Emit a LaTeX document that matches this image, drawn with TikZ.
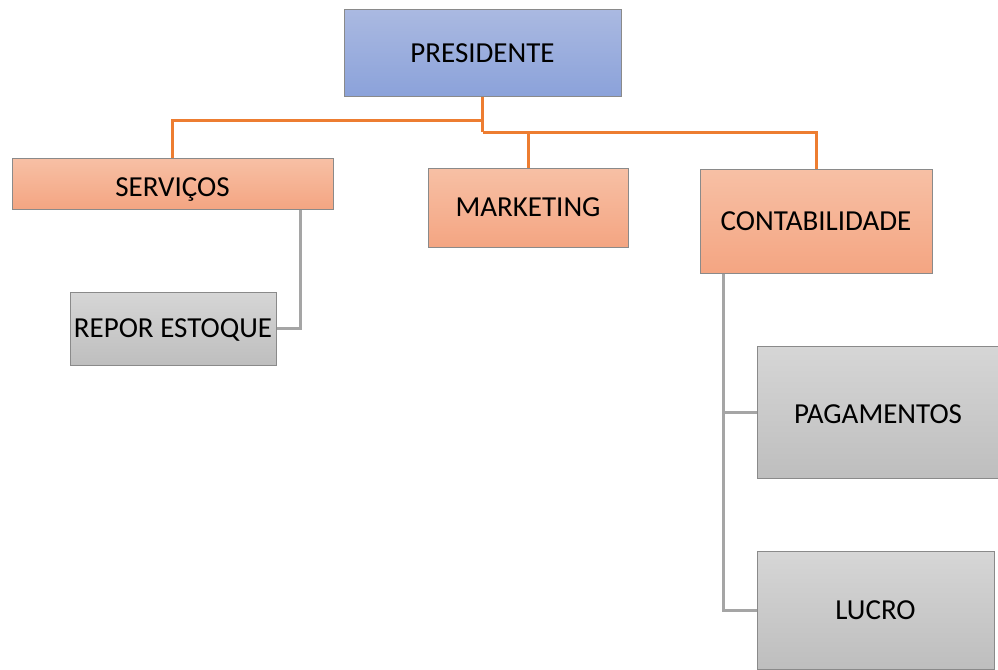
\documentclass[tikz,border=0pt]{standalone}
\usepackage{fontspec}
\setmainfont{Carlito}
\begin{document}
\begin{tikzpicture}[x=1pt,y=-1pt,
  box/.style={draw=boxborder, line width=1pt, inner sep=0pt, text height=18.6pt, text depth=0pt, font=\fontsize{29}{34}\selectfont, text=black},
  bluebox/.style={box, top color=blueT, bottom color=blueB},
  orangebox/.style={box, top color=orangeT, bottom color=orangeB},
  graybox/.style={box, top color=grayT, bottom color=grayB},
  oline/.style={draw=lineO, line width=3pt},
  gline/.style={draw=lineG, line width=3pt}]
\definecolor{boxborder}{HTML}{8A8A8A}
\definecolor{blueT}{HTML}{AAB9E1}
\definecolor{blueB}{HTML}{8BA2DA}
\definecolor{orangeT}{HTML}{F7C0A5}
\definecolor{orangeB}{HTML}{F4A582}
\definecolor{grayT}{HTML}{D6D6D6}
\definecolor{grayB}{HTML}{BEBEBE}
\definecolor{lineO}{HTML}{ED7D31}
\definecolor{lineG}{HTML}{A5A5A5}
\useasboundingbox (0,0) rectangle (998,669);
\fill[white] (0,0) rectangle (998,669);

\node[bluebox, minimum width=277pt, minimum height=86pt] (pres) at (482.5,53) {PRESIDENTE};
\node[orangebox, minimum width=321pt, minimum height=51pt] (serv) at (172.5,183.5) {\raisebox{-4pt}{SERVIÇOS}};
\node[orangebox, minimum width=200pt, minimum height=79pt] (mkt) at (528,207.5) {MARKETING};
\node[orangebox, minimum width=232pt, minimum height=104pt] (cont) at (816,221) {CONTABILIDADE};
\node[graybox, minimum width=206pt, minimum height=73pt] (repor) at (173,328.5) {REPOR ESTOQUE};
\node[graybox, minimum width=242pt, minimum height=132pt] (pag) at (878,412) {\raisebox{-2pt}{PAGAMENTOS}};
\node[graybox, minimum width=237pt, minimum height=118pt] (luc) at (875.5,610) {LUCRO};

\coordinate (j1) at (482.5,120);
\coordinate (j2) at (482.5,132);
\draw[oline] (pres.south) -- (j2);
\draw[oline] (j1) -| (serv.north);
\draw[oline] (j2) -| (mkt.north);
\draw[oline] (j2) -| (cont.north);

\coordinate (sv) at (300.5,328.5);
\draw[gline] (serv.south -| sv) -- (sv) -- (repor.east);

\coordinate (cv) at (723,273);
\draw[gline] (cont.south -| cv) -- (cv |- luc.west) -- (luc.west);
\draw[gline] (cv |- pag.west) -- (pag.west);
\end{tikzpicture}
\end{document}
